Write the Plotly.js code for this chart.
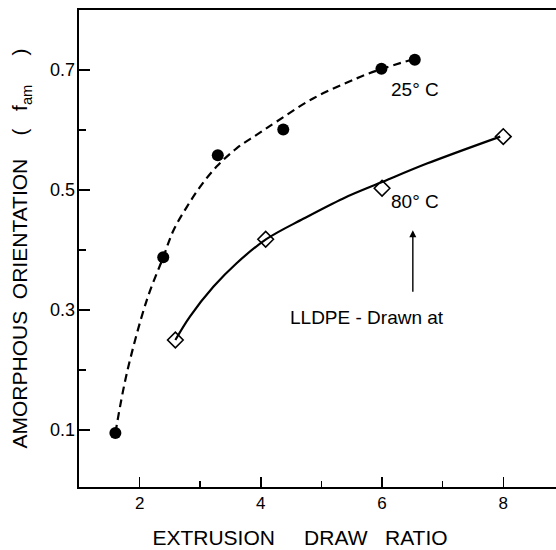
<!DOCTYPE html>
<html>
<head>
<meta charset="utf-8">
<script src="https://cdn.plot.ly/plotly-3.0.1.min.js"></script>
<style>html,body{margin:0;padding:0;background:#fff;}#chart{width:556px;height:550px;}</style>
</head>
<body>
<div id="chart"></div>
<script>
// Measured points
const drawRatio25 = [1.6, 2.39, 3.29, 4.37, 5.99, 6.54];
const orient25 = [0.095, 0.388, 0.558, 0.601, 0.702, 0.717];
const drawRatio80 = [2.59, 4.08, 6.0, 8.0];
const orient80 = [0.25, 0.418, 0.503, 0.589];
// Hand-drawn fit curves
const fit25X = [1.6, 1.79, 2.12, 2.39, 2.56, 2.78, 3.0, 3.27, 3.60, 3.93, 4.26, 4.87, 5.58, 5.97, 6.52];
const fit25Y = [0.095, 0.195, 0.317, 0.388, 0.433, 0.472, 0.5055, 0.539, 0.5695, 0.592, 0.614, 0.653, 0.686, 0.701, 0.718];
const fit80X = [2.59, 2.83, 3.22, 3.60, 4.09, 4.70, 5.36, 6.02, 6.74, 7.95];
const fit80Y = [0.25, 0.289, 0.339, 0.378, 0.418, 0.452, 0.486, 0.514, 0.544, 0.589];
// Texts
const label25 = "25\u00b0 C";
const label80 = "80\u00b0 C";
const labelNote = "LLDPE - Drawn at";
const xTitle = "EXTRUSION\u00a0\u00a0\u00a0\u00a0\u00a0DRAW\u00a0\u00a0\u00a0RATIO\u00a0\u00a0\u00a0\u00a0\u00a0\u00a0\u200b";
const yTitle = "AMORPHOUS\u00a0\u00a0ORIENTATION\u00a0\u00a0\u00a0\u00a0(\u00a0\u00a0\u00a0f<sub>am</sub>\u00a0\u00a0\u00a0\u00a0\u00a0)";

const FONT = "Liberation Sans, Arial, sans-serif";

const traces = [
  {x: fit25X, y: fit25Y, yaxis: "y2", mode: "lines", line: {color: "#000", width: 2.2, dash: "8px,5px", shape: "spline", smoothing: 1}, hoverinfo: "skip"},
  {x: fit80X, y: fit80Y, yaxis: "y2", mode: "lines", line: {color: "#000", width: 2.2, shape: "spline", smoothing: 1}, hoverinfo: "skip"},
  {x: drawRatio25, y: orient25, mode: "markers", marker: {symbol: "circle", size: 12, color: "#000"}},
  {x: drawRatio80, y: orient80, mode: "markers", marker: {symbol: "diamond-open", size: 12, color: "#000", line: {width: 1.6, color: "#000"}}}
];

const yRange = [0.005, 0.8];

const layout = {
  width: 556, height: 550,
  margin: {l: 79, r: 0, t: 10, b: 63},
  paper_bgcolor: "#fff", plot_bgcolor: "#fff",
  showlegend: false,
  font: {family: FONT, color: "#000"},
  xaxis: {
    range: [1, 8.87], showgrid: false, zeroline: false,
    showline: true, linecolor: "#000", linewidth: 2, mirror: true,
    ticks: "inside", ticklen: 10, tickwidth: 1.5, tickcolor: "#000",
    tick0: 0, dtick: 2, tickfont: {size: 17, family: FONT},
    minor: {dtick: 1, ticks: "inside", ticklen: 6, tickwidth: 1.5, tickcolor: "#000"},
    title: {text: xTitle, font: {size: 21, family: FONT}, standoff: 18}
  },
  yaxis: {
    range: yRange, showgrid: false, zeroline: false,
    showline: true, linecolor: "#000", linewidth: 2,
    ticks: "inside", ticklen: 11, tickwidth: 1.5, tickcolor: "#000",
    tick0: 0.1, dtick: 0.2, showticklabels: false,
    minor: {dtick: 0.1, ticks: "inside", ticklen: 7, tickwidth: 1.5, tickcolor: "#000"}
  },
  yaxis2: {
    overlaying: "y", side: "left", anchor: "x", matches: "y",
    range: yRange, showgrid: false, zeroline: false, showline: false,
    ticks: "", tick0: 0.1, dtick: 0.2, tickfont: {size: 18, family: FONT},
    ticklabelstandoff: 3,
    title: {text: yTitle, font: {size: 21, family: FONT}, standoff: 16}
  },
  annotations: [
    {x: 6.546, y: 0.667, xref: "x", yref: "y", text: label25, showarrow: false, font: {size: 19, family: FONT}},
    {x: 6.54, y: 0.4805, xref: "x", yref: "y", text: label80, showarrow: false, font: {size: 19, family: FONT}},
    {x: 5.746, y: 0.288, xref: "x", yref: "y", text: labelNote, showarrow: false, font: {size: 19, family: FONT}},
    {x: 6.508, y: 0.433, ax: 6.508, ay: 0.328, xref: "x", yref: "y", axref: "x", ayref: "y",
     text: "", showarrow: true, arrowhead: 2, arrowsize: 1, arrowwidth: 1.4, arrowcolor: "#000"}
  ]
};

Plotly.newPlot("chart", traces, layout, {staticPlot: true, displayModeBar: false});
</script>
</body>
</html>
